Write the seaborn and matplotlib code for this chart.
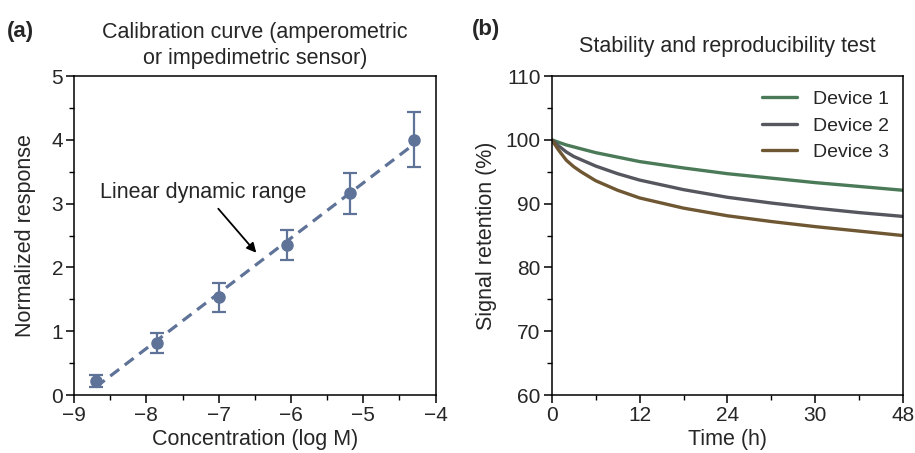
import numpy as np
import pandas as pd
import matplotlib
matplotlib.use("Agg")
import matplotlib.pyplot as plt
from matplotlib.ticker import MultipleLocator
import seaborn as sns

# ---- panel (a): calibration data ----
conc_log = [-8.70, -7.85, -7.00, -6.06, -5.19, -4.30]
response = [0.22, 0.82, 1.53, 2.35, 3.16, 4.00]
resp_err = [0.09, 0.16, 0.23, 0.24, 0.32, 0.43]

# ---- panel (b): stability data ----
time_h = [0, 1, 2, 3, 4, 6, 9, 12, 18, 24, 30, 36, 42, 48]
device1 = [100, 99.6, 99.2, 98.9, 98.6, 98.0, 97.3, 96.6, 95.6, 94.7, 94.0, 93.3, 92.7, 92.1]
device2 = [100, 99.0, 98.1, 97.4, 96.9, 95.9, 94.7, 93.7, 92.2, 91.0, 90.1, 89.3, 88.6, 88.0]
device3 = [100, 98.3, 96.8, 95.8, 95.0, 93.6, 92.1, 90.9, 89.3, 88.1, 87.2, 86.4, 85.7, 85.0]
device_names = ["Device 1", "Device 2", "Device 3"]
device_colors = ["#4b7a58", "#55565e", "#6e5732"]
time_ticks = [0, 12, 24, 36, 48]
time_ticklabels = ["0", "12", "24", "30", "48"]

sns.set_theme(style="ticks")
plt.rcParams["font.family"] = ["Liberation Sans", "DejaVu Sans"]

fig = plt.figure(figsize=(9.15, 4.53), dpi=100)
ax1 = fig.add_axes([0.081, 0.128, 0.395, 0.704])
ax2 = fig.add_axes([0.603, 0.128, 0.384, 0.704])

point_color = "#5f7399"
calib = pd.DataFrame({"conc": conc_log, "resp": response})
sns.regplot(data=calib, x="conc", y="resp", ax=ax1, scatter=False, ci=None,
            color=point_color, line_kws=dict(ls=(0, (3.5, 2.2)), lw=2.3))
ax1.errorbar(conc_log, response, yerr=resp_err, fmt="o", color=point_color,
             ms=8, capsize=5, elinewidth=1.6, capthick=1.6, zorder=3)
ax1.annotate("Linear dynamic range", xy=(-6.48, 2.23), xytext=(-8.64, 3.17),
             fontsize=15.5, va="center", ha="left",
             arrowprops=dict(arrowstyle="-|>", color="black", lw=1.3,
                             mutation_scale=14, shrinkA=2, shrinkB=0,
                             relpos=(0.55, 0.0)))
ax1.set_xlim(-9, -4)
ax1.set_ylim(0, 5)
ax1.xaxis.set_minor_locator(MultipleLocator(0.5))
ax1.yaxis.set_minor_locator(MultipleLocator(0.5))
ax1.set_xlabel("Concentration (log M)", fontsize=15.5, labelpad=3)
ax1.set_ylabel("Normalized response", fontsize=15.5, labelpad=11)
ax1.set_title("Calibration curve (amperometric\nor impedimetric sensor)",
              fontsize=15.5, pad=9, linespacing=1.3)

stab = pd.DataFrame({"time": time_h * 3,
                     "retention": device1 + device2 + device3,
                     "device": [n for n in device_names for _ in time_h]})
sns.lineplot(data=stab, x="time", y="retention", hue="device",
             palette=device_colors, lw=2.4, ax=ax2)
ax2.set_xlim(0, 48)
ax2.set_ylim(60, 110)
ax2.set_xticks(time_ticks)
ax2.set_xticklabels(time_ticklabels)
ax2.xaxis.set_minor_locator(MultipleLocator(6))
ax2.yaxis.set_minor_locator(MultipleLocator(5))
ax2.set_xlabel("Time (h)", fontsize=15.5, labelpad=3)
ax2.set_ylabel("Signal retention (%)", fontsize=15.5, labelpad=6)
ax2.set_title("Stability and reproducibility test", fontsize=15.5, pad=17)
ax2.legend(title=None, frameon=False, fontsize=14, loc="upper right",
           handlelength=1.8, labelspacing=0.45, borderaxespad=0.35,
           handletextpad=0.8)

for ax in (ax1, ax2):
    for s in ax.spines.values():
        s.set_visible(True)
        s.set_linewidth(1.1)
        s.set_color("black")
    ax.tick_params(which="major", direction="out", length=6, width=1.1,
                   labelsize=15, color="black", pad=2)
    ax.tick_params(which="minor", direction="out", length=3.5, width=1.0,
                   color="black")

fig.text(0.008, 0.918, "(a)", fontsize=16, fontweight="bold")
fig.text(0.516, 0.922, "(b)", fontsize=16, fontweight="bold")

fig.savefig("out.png", dpi=100, facecolor="white")
